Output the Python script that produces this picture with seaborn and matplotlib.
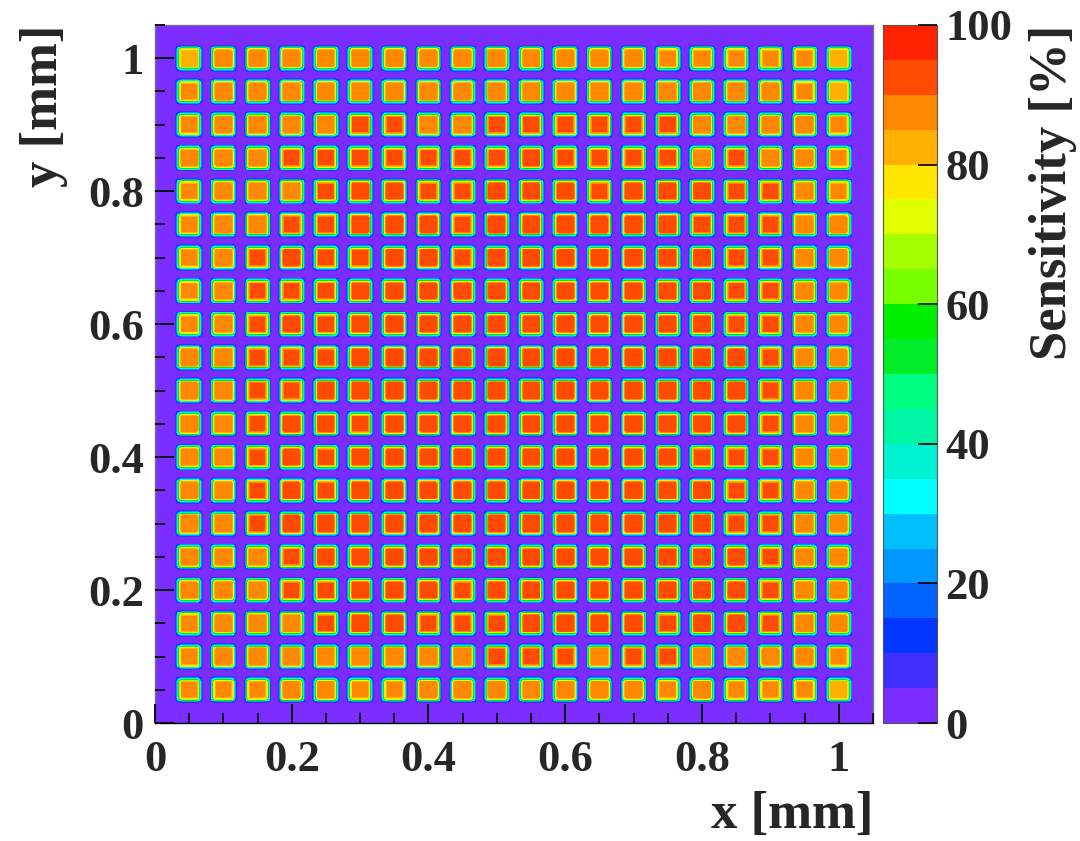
import numpy as np
import pandas as pd
import matplotlib
matplotlib.use("Agg")
import matplotlib.pyplot as plt
import seaborn as sns
from matplotlib.colors import ListedColormap
from matplotlib.ticker import MultipleLocator, FixedLocator

# --- data ----------------------------------------------------------------
# plateau sensitivity [%] of each of the 20x20 pixels, top row (y=1.0) first
PIXEL_LEVELS = [
    [84, 87, 87, 88, 87, 87, 87, 87, 87, 88, 87, 87, 87, 88, 86, 86, 86, 85, 85, 84],
    [85, 87, 87, 88, 88, 88, 89, 88, 87, 88, 89, 89, 89, 88, 89, 87, 88, 87, 86, 84],
    [86, 87, 89, 88, 89, 90, 91, 89, 89, 90, 91, 91, 91, 90, 90, 88, 88, 88, 87, 85],
    [87, 87, 89, 90, 90, 91, 91, 91, 90, 91, 92, 91, 91, 90, 91, 89, 90, 89, 88, 86],
    [86, 88, 89, 89, 90, 92, 92, 91, 91, 92, 92, 92, 91, 92, 92, 92, 91, 90, 88, 86],
    [86, 88, 89, 90, 90, 92, 92, 92, 91, 92, 92, 92, 92, 92, 92, 91, 91, 90, 88, 87],
    [86, 88, 90, 92, 90, 91, 92, 92, 91, 92, 92, 92, 92, 92, 92, 92, 91, 90, 89, 87],
    [86, 89, 90, 91, 91, 92, 92, 92, 92, 92, 92, 92, 92, 92, 92, 92, 91, 90, 89, 87],
    [86, 88, 90, 92, 91, 92, 92, 92, 92, 92, 92, 92, 92, 92, 92, 92, 91, 90, 89, 87],
    [87, 89, 91, 91, 91, 92, 92, 92, 92, 92, 92, 92, 92, 92, 92, 92, 92, 91, 89, 87],
    [87, 89, 90, 91, 92, 92, 92, 92, 92, 92, 92, 92, 92, 92, 92, 92, 92, 90, 89, 87],
    [87, 89, 90, 92, 92, 91, 92, 92, 92, 92, 92, 92, 92, 92, 92, 92, 92, 90, 89, 87],
    [87, 89, 90, 92, 91, 92, 92, 92, 92, 92, 92, 92, 92, 92, 92, 91, 91, 90, 89, 87],
    [87, 89, 90, 92, 91, 92, 92, 92, 92, 92, 92, 92, 92, 92, 92, 92, 91, 90, 89, 87],
    [87, 89, 90, 92, 92, 92, 92, 92, 92, 92, 92, 92, 92, 92, 92, 92, 91, 91, 89, 87],
    [87, 88, 89, 91, 92, 92, 92, 92, 92, 92, 92, 92, 92, 92, 92, 92, 92, 91, 89, 87],
    [87, 88, 89, 90, 91, 92, 92, 92, 91, 92, 92, 92, 92, 92, 92, 92, 92, 90, 89, 87],
    [86, 88, 89, 89, 90, 92, 92, 91, 91, 91, 92, 92, 92, 92, 91, 92, 92, 90, 89, 87],
    [86, 87, 88, 88, 89, 89, 89, 89, 89, 90, 90, 90, 89, 90, 90, 89, 88, 87, 87, 86],
    [85, 86, 86, 87, 87, 86, 86, 87, 87, 87, 87, 87, 87, 87, 86, 87, 86, 86, 86, 84],
]
# fraction of the plateau reached going from the cell border to the pixel centre
# (one entry per 1.25 um bin, 20 bins = half a pitch)
EDGE_PROFILE = [0.0, 0.0, 0.0, 0.0, 0.08, 0.25, 0.42, 0.62, 0.82, 0.93,
                0.98, 1.0, 1.0, 1.0, 1.0, 1.0, 1.0, 1.0, 1.0, 1.0]

PIXEL_PITCH = 0.05      # mm
BIN_MM = 0.00125        # histogram bin width, mm
AXIS_MAX = 1.05         # mm

X_TICKS = [0, 0.2, 0.4, 0.6, 0.8, 1.0]
X_TICK_LABELS = ["0", "0.2", "0.4", "0.6", "0.8", "1"]
Y_TICKS = X_TICKS
Y_TICK_LABELS = X_TICK_LABELS
MINOR_STEP = 0.05
Z_TICKS = [0, 20, 40, 60, 80, 100]

# ROOT-like 20 level palette, 0 -> 100 %
PALETTE = [
    "#7b2dff", "#3f2eff", "#0036ff", "#0062ff", "#0096ff",
    "#00c0ff", "#00ffff", "#00f2d2", "#00f5a5", "#00ff80",
    "#00ee2a", "#00ee00", "#77ff00", "#a6ff00", "#e2ff00",
    "#ffe600", "#ffb000", "#ff8800", "#ff4a00", "#ff2200",
]

# --- build the 2D histogram ----------------------------------------------
n_bins = int(round(AXIS_MAX / BIN_MM))
cell_bins = int(round(PIXEL_PITCH / BIN_MM))
offset = cell_bins // 2          # first pixel centred at one pitch
profile = np.array(EDGE_PROFILE + EDGE_PROFILE[::-1])
cell = np.outer(profile, profile)
levels = np.array(PIXEL_LEVELS, dtype=float)[::-1]   # row 0 = bottom

grid = np.zeros((n_bins, n_bins))
n_pix = levels.shape[0]
grid[offset:offset + n_pix * cell_bins, offset:offset + n_pix * cell_bins] = np.kron(levels, cell)

# --- plot ----------------------------------------------------------------
sns.set_style("white")
plt.rcParams["font.family"] = ["Liberation Serif", "DejaVu Serif"]
plt.rcParams["font.weight"] = "bold"

fig = plt.figure(figsize=(10.8, 8.41), dpi=100)
ax = fig.add_axes([0.1435, 0.1403, 0.6648, 0.830])
cax = fig.add_axes([0.8176, 0.1403, 0.050, 0.830])

cmap = ListedColormap(PALETTE)
sns.heatmap(pd.DataFrame(grid), ax=ax, cbar_ax=cax, cmap=cmap, vmin=0, vmax=100,
            xticklabels=False, yticklabels=False, rasterized=True,
            cbar_kws={"ticks": Z_TICKS})
ax.invert_yaxis()
ax.set_axisbelow(False)
cax.set_axisbelow(False)

ax.xaxis.set_major_locator(FixedLocator(np.array(X_TICKS) / BIN_MM))
ax.set_xticklabels(X_TICK_LABELS)
ax.yaxis.set_major_locator(FixedLocator(np.array(Y_TICKS) / BIN_MM))
ax.set_yticklabels(Y_TICK_LABELS, rotation=0)
ax.xaxis.set_minor_locator(MultipleLocator(MINOR_STEP / BIN_MM))
ax.yaxis.set_minor_locator(MultipleLocator(MINOR_STEP / BIN_MM))

ax.tick_params(which="both", direction="in", bottom=True, left=True,
               top=False, right=False, color="black", width=1.3)
ax.tick_params(which="major", length=14, labelsize=32)
ax.tick_params(which="minor", length=7)
ax.tick_params(axis="x", which="major", pad=12)
ax.tick_params(axis="y", which="major", pad=8)

for side, sp in ax.spines.items():
    sp.set_visible(True)
    sp.set_linewidth(1.0)
    sp.set_color("black" if side == "bottom" else "#777777")

ax.set_xlabel("x [mm]", loc="right", fontsize=38, fontweight="bold", labelpad=8)
ax.set_ylabel("y [mm]", loc="top", fontsize=38, fontweight="bold", labelpad=14)

cbar = ax.collections[0].colorbar
cbar.outline.set_linewidth(0.8)
cbar.outline.set_edgecolor("#555555")
cax.tick_params(direction="in", length=14, width=1.2, right=True, left=False,
                labelright=True, labelleft=False, labelsize=32, pad=6, color="black")
cax.yaxis.set_label_position("right")
cax.set_ylabel("Sensitivity [%]", loc="top", fontsize=38, fontweight="bold", labelpad=12)

fig.savefig("out.png", dpi=100)
plt.close(fig)
